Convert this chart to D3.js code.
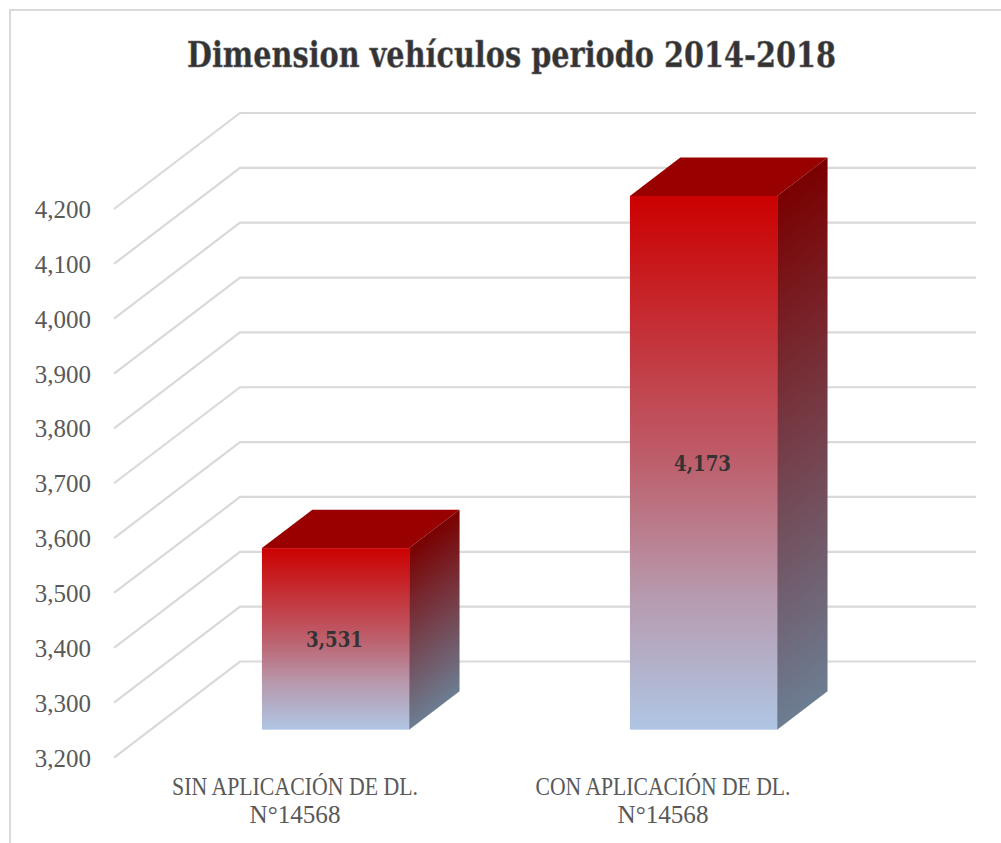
<!DOCTYPE html>
<html><head><meta charset="utf-8">
<script src="https://cdn.jsdelivr.net/npm/d3@7"></script>
<style>
html,body{margin:0;padding:0;background:#fff}
svg{display:block}
text{font-family:"Liberation Serif","DejaVu Serif",serif}
</style></head><body><div id="chart"></div>
<script>
const categories = [["SIN APLICACIÓN DE DL.","N°14568"],["CON APLICACIÓN DE DL.","N°14568"]];
const categoryKeys = ["SIN","CON"];
const values = [3531,4173];
const valueLabels = ["3,531","4,173"];
const tickValues = [3200,3300,3400,3500,3600,3700,3800,3900,4000,4100,4200];
const titleText = "Dimension vehículos periodo 2014-2018";

const W=1001,H=843;
const svg=d3.select("#chart").append("svg").attr("width",W).attr("height",H).attr("viewBox",[0,0,W,H]);
const defs=svg.append("defs");
svg.append("path").attr("d",`M10,${H}V10H${W}`).attr("fill","none").attr("stroke","#d9d9d9").attr("stroke-width",2);

const y=d3.scaleLinear().domain([3200,4200]).range([757.5,209]);
const DX=126,DY=-96,FRONT=114,PLOTW=736;
const px=(x,t)=>x+DX*t, py=(v,t)=>y(v)+DY*t;
const barT0=0.29,barT1=0.69;
const x=d3.scaleBand().domain(categoryKeys).range([FRONT+1,FRONT+1+PLOTW]).paddingInner(0.6).paddingOuter(0.3);

svg.append("g").selectAll("path").data(tickValues).join("path")
 .attr("d",v=>d3.line()([[px(FRONT,0),py(v,0)],[px(FRONT,1),py(v,1)],[px(FRONT+PLOTW,1),py(v,1)]]))
 .attr("fill","none").attr("stroke","#d9d9d9").attr("stroke-width",2.2);

const axis=d3.axisLeft(y).tickValues(tickValues).tickFormat(d3.format(",")).tickSize(0).tickPadding(23);
const ag=svg.append("g").attr("transform",`translate(${FRONT},0)`).call(axis);
ag.select(".domain").remove();
ag.selectAll("text").attr("fill","#595959").style("font-size","25px").attr("text-anchor","end").attr("dy","0.34em");

const fg=defs.append("linearGradient").attr("id","front").attr("x1",0).attr("y1",0).attr("x2",0).attr("y2",1);
[[0,"#cc0000"],[0.5,"#bd5f6c"],[0.75,"#b79aae"],[1,"#afc6e4"]].forEach(s=>fg.append("stop").attr("offset",s[0]).attr("stop-color",s[1]));

const bw=x.bandwidth();
const bx=(i,t)=>px(x(categoryKeys[i]),t);
const line=d3.line();
// side-face gradient: colour bands run parallel to the bar's depth edge
const dt=barT1-barT0, ddx=DX*dt, ddy=-DY*dt, dl=Math.hypot(ddx,ddy);
values.forEach((v,i)=>{
  const x0=bx(i,barT0)+bw,y0=py(v,barT0),h=py(3200,barT0)-y0,L=h*ddx/dl;
  const g=defs.append("linearGradient").attr("id","side"+i).attr("gradientUnits","userSpaceOnUse")
    .attr("x1",x0).attr("y1",y0).attr("x2",x0+ddy/dl*L).attr("y2",y0+ddx/dl*L);
  [[0,"#7a0000"],[0.5,"#753f4a"],[1,"#6c7d92"]].forEach(s=>g.append("stop").attr("offset",s[0]).attr("stop-color",s[1]));
});

const bars=svg.append("g").selectAll("g").data(values).join("g");
bars.append("path").attr("fill","#990000")
 .attr("d",(v,i)=>line([[bx(i,barT0),py(v,barT0)],[bx(i,barT0)+bw,py(v,barT0)],[bx(i,barT1)+bw,py(v,barT1)],[bx(i,barT1),py(v,barT1)]])+"Z");
bars.append("path").attr("fill",(v,i)=>`url(#side${i})`)
 .attr("d",(v,i)=>line([[bx(i,barT0)+bw,py(v,barT0)],[bx(i,barT1)+bw,py(v,barT1)],[bx(i,barT1)+bw,py(3200,barT1)],[bx(i,barT0)+bw,py(3200,barT0)]])+"Z");
bars.append("rect").attr("fill","url(#front)")
 .attr("x",(v,i)=>bx(i,barT0)).attr("width",bw)
 .attr("y",v=>py(v,barT0)).attr("height",v=>py(3200,barT0)-py(v,barT0));
bars.append("text").text((v,i)=>valueLabels[i])
 .attr("x",(v,i)=>bx(i,barT0)+bw/2-1).attr("y",v=>(py(v,barT0)+py(3200,barT0))/2+8.5)
 .attr("text-anchor","middle").attr("fill","#333").attr("font-weight","bold")
 .attr("textLength",57).attr("lengthAdjust","spacingAndGlyphs")
 .style("font-family",'"DejaVu Serif"').style("font-size","23px");

// two lines per category, each condensed to the reference's narrow face
const catLines=svg.append("g");
categories.forEach((c,i)=>c.forEach((t,j)=>{
  catLines.append("text").text(t).attr("x",x(categoryKeys[i])+bw/2-4).attr("y",795+j*28)
   .attr("text-anchor","middle").attr("fill","#595959").style("font-size","25px")
   .attr("textLength",j===0?(i===0?246:255):91).attr("lengthAdjust","spacingAndGlyphs");
}));

svg.append("text").text(titleText).attr("x",511.5).attr("y",67).attr("text-anchor","middle")
 .attr("font-weight","bold").attr("fill","#333").attr("stroke","#777").attr("stroke-width",0.5)
 .attr("textLength",649).attr("lengthAdjust","spacingAndGlyphs")
 .style("font-family",'"DejaVu Serif"').style("font-size","35px");
</script></body></html>
